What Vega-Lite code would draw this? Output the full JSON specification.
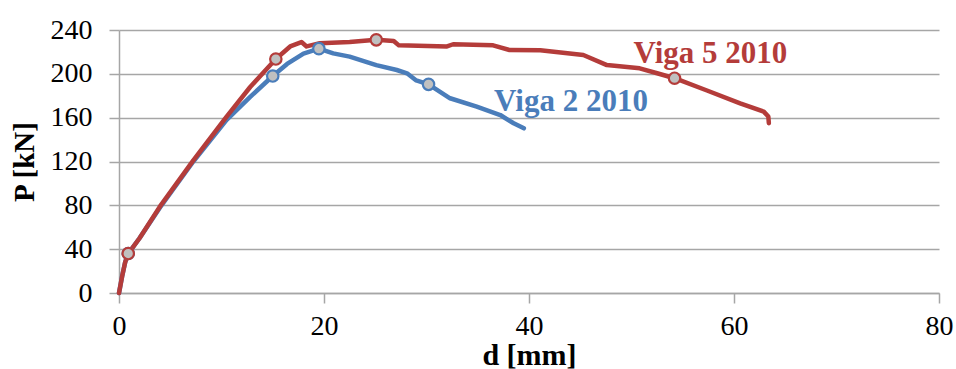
{
  "$schema": "https://vega.github.io/schema/vega-lite/v6.json",
  "width": 820,
  "height": 263,
  "autosize": {"type": "none"},
  "padding": {"left": 119, "top": 30, "right": 17, "bottom": 76},
  "background": "white",
  "config": {
    "view": {"stroke": null},
    "font": "Liberation Serif"
  },
  "datasets": {
    "curves": [
      {"series": "Viga 2 2010", "d": 0, "P": 0},
      {"series": "Viga 2 2010", "d": 0.3, "P": 15},
      {"series": "Viga 2 2010", "d": 0.6, "P": 28},
      {"series": "Viga 2 2010", "d": 0.9, "P": 36},
      {"series": "Viga 2 2010", "d": 2, "P": 50},
      {"series": "Viga 2 2010", "d": 4, "P": 78},
      {"series": "Viga 2 2010", "d": 7.25, "P": 120},
      {"series": "Viga 2 2010", "d": 10.5, "P": 158},
      {"series": "Viga 2 2010", "d": 12.8, "P": 179},
      {"series": "Viga 2 2010", "d": 15.0, "P": 198},
      {"series": "Viga 2 2010", "d": 16.4, "P": 209},
      {"series": "Viga 2 2010", "d": 18.0, "P": 218.5},
      {"series": "Viga 2 2010", "d": 19.5, "P": 223},
      {"series": "Viga 2 2010", "d": 20.9, "P": 218.7},
      {"series": "Viga 2 2010", "d": 22.5, "P": 215.7},
      {"series": "Viga 2 2010", "d": 25.1, "P": 208},
      {"series": "Viga 2 2010", "d": 27.1, "P": 203.5},
      {"series": "Viga 2 2010", "d": 28.1, "P": 200.5},
      {"series": "Viga 2 2010", "d": 29.0, "P": 194},
      {"series": "Viga 2 2010", "d": 30.2, "P": 190.4},
      {"series": "Viga 2 2010", "d": 32.3, "P": 177.7},
      {"series": "Viga 2 2010", "d": 34.9, "P": 170},
      {"series": "Viga 2 2010", "d": 37.2, "P": 162.4},
      {"series": "Viga 2 2010", "d": 38.5, "P": 154.9},
      {"series": "Viga 2 2010", "d": 39.5, "P": 150.3},
      {"series": "Viga 5 2010", "d": 0, "P": 0},
      {"series": "Viga 5 2010", "d": 0.3, "P": 15},
      {"series": "Viga 5 2010", "d": 0.6, "P": 28},
      {"series": "Viga 5 2010", "d": 0.9, "P": 36},
      {"series": "Viga 5 2010", "d": 2, "P": 50},
      {"series": "Viga 5 2010", "d": 4, "P": 79},
      {"series": "Viga 5 2010", "d": 7.25, "P": 121},
      {"series": "Viga 5 2010", "d": 10.5, "P": 161},
      {"series": "Viga 5 2010", "d": 12.8, "P": 188},
      {"series": "Viga 5 2010", "d": 15.3, "P": 213.5},
      {"series": "Viga 5 2010", "d": 16.7, "P": 225},
      {"series": "Viga 5 2010", "d": 17.8, "P": 229},
      {"series": "Viga 5 2010", "d": 18.3, "P": 225},
      {"series": "Viga 5 2010", "d": 19.6, "P": 228},
      {"series": "Viga 5 2010", "d": 22.5, "P": 229},
      {"series": "Viga 5 2010", "d": 25.1, "P": 231},
      {"series": "Viga 5 2010", "d": 26.8, "P": 230},
      {"series": "Viga 5 2010", "d": 27.3, "P": 226},
      {"series": "Viga 5 2010", "d": 32.0, "P": 225},
      {"series": "Viga 5 2010", "d": 32.6, "P": 227},
      {"series": "Viga 5 2010", "d": 36.5, "P": 226},
      {"series": "Viga 5 2010", "d": 38.1, "P": 221.7},
      {"series": "Viga 5 2010", "d": 41.1, "P": 221.5},
      {"series": "Viga 5 2010", "d": 45.3, "P": 217.2},
      {"series": "Viga 5 2010", "d": 47.6, "P": 208},
      {"series": "Viga 5 2010", "d": 50.8, "P": 205},
      {"series": "Viga 5 2010", "d": 52.5, "P": 200.5},
      {"series": "Viga 5 2010", "d": 54.2, "P": 196},
      {"series": "Viga 5 2010", "d": 57.3, "P": 185},
      {"series": "Viga 5 2010", "d": 60.6, "P": 173},
      {"series": "Viga 5 2010", "d": 62.9, "P": 165.5},
      {"series": "Viga 5 2010", "d": 63.35, "P": 161},
      {"series": "Viga 5 2010", "d": 63.4, "P": 155}
    ],
    "markers": [
      {"series": "Viga 2 2010", "d": 0.9, "P": 36},
      {"series": "Viga 2 2010", "d": 15.0, "P": 198},
      {"series": "Viga 2 2010", "d": 19.5, "P": 223},
      {"series": "Viga 2 2010", "d": 30.2, "P": 190.4},
      {"series": "Viga 5 2010", "d": 0.9, "P": 36},
      {"series": "Viga 5 2010", "d": 15.3, "P": 213.5},
      {"series": "Viga 5 2010", "d": 25.1, "P": 231},
      {"series": "Viga 5 2010", "d": 54.2, "P": 196}
    ],
    "labels": [
      {"series": "Viga 2 2010", "d": 44.1, "P": 166},
      {"series": "Viga 5 2010", "d": 57.7, "P": 210}
    ]
  },
  "encoding": {
    "x": {
      "field": "d",
      "type": "quantitative",
      "scale": {"domain": [0, 80], "nice": false, "zero": true},
      "axis": {
        "title": "d [mm]",
        "values": [0, 20, 40, 60, 80],
        "grid": false,
        "domainColor": "#A6A6A6",
        "domainWidth": 1.5,
        "tickColor": "#A6A6A6",
        "tickWidth": 1.5,
        "tickSize": 10,
        "labelFont": "Liberation Serif",
        "labelFontSize": 28,
        "labelColor": "#000000",
        "labelPadding": 9,
        "labelFlush": false,
        "titleFont": "Liberation Serif",
        "titleFontSize": 30,
        "titleFontWeight": "bold",
        "titleColor": "#000000",
        "titlePadding": 0
      }
    },
    "y": {
      "field": "P",
      "type": "quantitative",
      "scale": {"domain": [0, 240], "nice": false},
      "axis": {
        "title": "P [kN]",
        "values": [0, 40, 80, 120, 160, 200, 240],
        "grid": true,
        "gridColor": "#A6A6A6",
        "gridWidth": 1.5,
        "domainColor": "#A6A6A6",
        "domainWidth": 1.5,
        "tickColor": "#A6A6A6",
        "tickWidth": 1.5,
        "tickSize": 10,
        "labelFont": "Liberation Serif",
        "labelFontSize": 28,
        "labelColor": "#000000",
        "labelPadding": 17,
        "labelFlush": false,
        "titleFont": "Liberation Serif",
        "titleFontSize": 29,
        "titleFontWeight": "bold",
        "titleColor": "#000000",
        "titlePadding": 11
      }
    },
    "color": {
      "field": "series",
      "type": "nominal",
      "scale": {"domain": ["Viga 2 2010", "Viga 5 2010"], "range": ["#4A7DBA", "#B43C3A"]},
      "legend": null
    }
  },
  "layer": [
    {
      "data": {"name": "curves"},
      "mark": {"type": "line", "strokeWidth": 4.5, "strokeCap": "round", "strokeJoin": "round"},
      "encoding": {
        "detail": {"field": "series"},
        "order": {"field": "d", "type": "quantitative"}
      }
    },
    {
      "data": {"name": "markers"},
      "mark": {"type": "point", "shape": "circle", "filled": false, "fill": "#C0C0C0", "fillOpacity": 1, "size": 130, "strokeWidth": 2.2, "opacity": 1},
      "encoding": {
        "stroke": {"field": "series", "type": "nominal", "scale": {"domain": ["Viga 2 2010", "Viga 5 2010"], "range": ["#4A7DBA", "#B43C3A"]}, "legend": null}
      }
    },
    {
      "data": {"name": "labels"},
      "mark": {"type": "text", "font": "Liberation Serif", "fontSize": 31, "fontWeight": "bold", "align": "center", "baseline": "alphabetic"},
      "encoding": {
        "text": {"field": "series"}
      }
    }
  ]
}
